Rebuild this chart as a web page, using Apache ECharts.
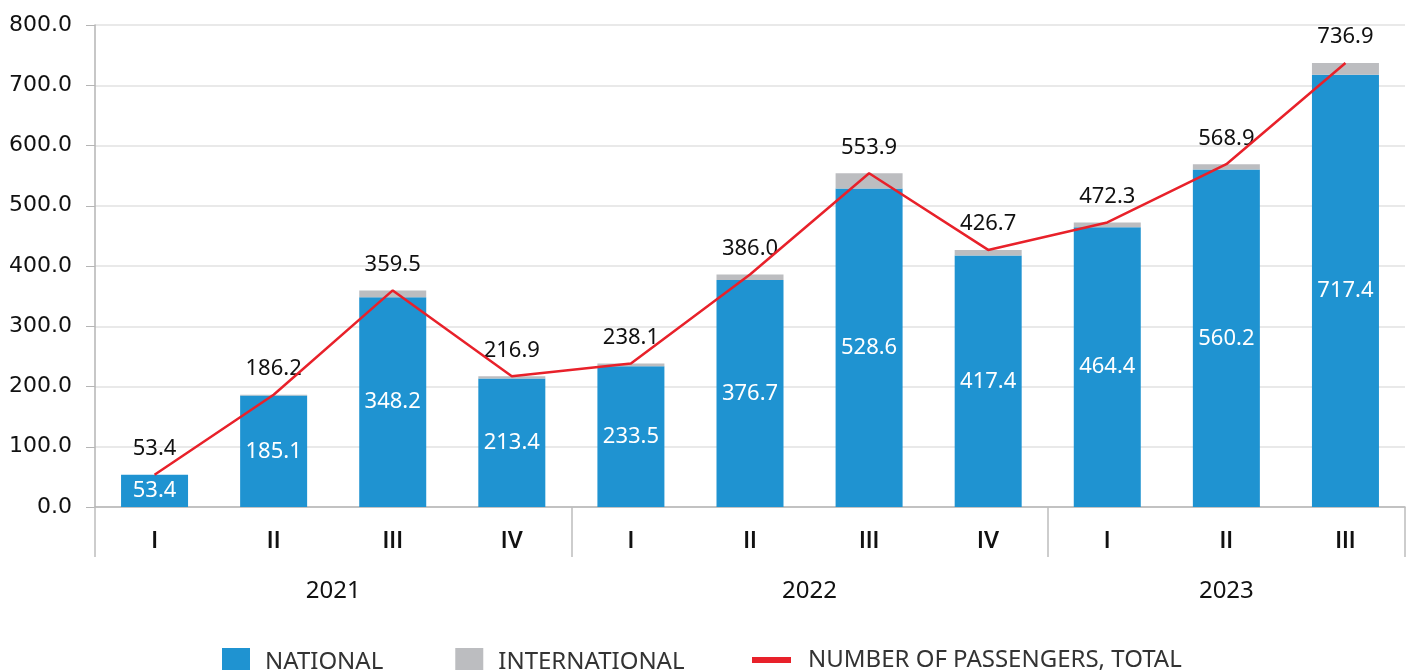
<!DOCTYPE html>
<html>
<head>
<meta charset="utf-8">
<script src="https://cdn.jsdelivr.net/npm/echarts@6/dist/echarts.min.js"></script>
<style>
html,body{margin:0;padding:0;background:#fff;}
#main{width:1410px;height:670px;}
</style>
</head>
<body>
<div id="main"></div>
<script>
const quarters = ['I','II','III','IV','I','II','III','IV','I','II','III'];
const years = ['2021','2022','2023'];
const yearCenters = [2, 6, 9.5];
const yearBoundaries = [0, 4, 8, 11];
const nationalValues = [53.4, 185.1, 348.2, 213.4, 233.5, 376.7, 528.6, 417.4, 464.4, 560.2, 717.4];
const internationalValues = [0, 1.1, 11.3, 3.5, 4.6, 9.3, 25.3, 9.3, 7.9, 8.7, 19.5];
const totalValues = [53.4, 186.2, 359.5, 216.9, 238.1, 386.0, 553.9, 426.7, 472.3, 568.9, 736.9];

const FONT = 'Noto Sans';
const chart = echarts.init(document.getElementById('main'));
chart.setOption({
  animation: false,
  textStyle: { fontFamily: FONT },
  grid: { left: 95, right: 5, top: 25, bottom: 163, containLabel: false },
  legend: [
    {
      left: 222, top: 648, padding: 0, itemWidth: 28, itemHeight: 28, itemGap: 72,
      textStyle: { fontFamily: FONT, fontSize: 24, color: '#333', padding: [0, 0, 0, 10] },
      icon: 'rect',
      data: ['NATIONAL', 'INTERNATIONAL']
    },
    {
      left: 752, top: 648, padding: 0, itemWidth: 39, itemHeight: 6,
      textStyle: { fontFamily: FONT, fontSize: 24, color: '#333', padding: [0, 0, 0, 12] },
      data: [{ name: 'NUMBER OF PASSENGERS, TOTAL', icon: 'rect', itemStyle: { color: '#e8212a' } }]
    }
  ],
  xAxis: [
    {
      type: 'category',
      data: quarters,
      position: 'bottom',
      axisLine: { show: true, lineStyle: { color: '#b5b5b5', width: 1.5 } },
      axisTick: { show: false },
      axisLabel: { fontFamily: 'Roboto', fontWeight: 500, fontSize: 24, color: '#111', margin: 23 }
    },
    {
      type: 'value',
      min: 0, max: 11,
      position: 'bottom',
      axisLine: { show: false },
      splitLine: { show: false },
      axisTick: { show: true, length: 50, customValues: yearBoundaries, lineStyle: { color: '#bdbdbd', width: 1.5 } },
      axisLabel: {
        fontFamily: FONT, fontSize: 24, color: '#111', margin: 72,
        customValues: yearCenters,
        formatter: function (v) {
          const i = yearCenters.indexOf(v);
          return i >= 0 ? years[i] : '';
        }
      }
    }
  ],
  yAxis: {
    type: 'value',
    min: 0, max: 800, interval: 100,
    axisLine: { show: true, lineStyle: { color: '#b5b5b5', width: 1.5 } },
    axisTick: { show: true, length: 9, lineStyle: { color: '#b5b5b5' } },
    splitLine: { show: true, lineStyle: { color: '#e2e2e2', width: 1.5 } },
    axisLabel: { fontFamily: 'DejaVu Sans', fontSize: 22, color: '#111', margin: 23, formatter: v => v.toFixed(1) }
  },
  series: [
    {
      name: 'NATIONAL', type: 'bar', stack: 'p', barWidth: 67,
      xAxisIndex: 0, yAxisIndex: 0,
      itemStyle: { color: '#1f93d1' },
      label: { show: true, position: 'inside', color: '#fff', fontSize: 22, fontFamily: FONT, formatter: p => p.value.toFixed(1) },
      data: nationalValues
    },
    {
      name: 'INTERNATIONAL', type: 'bar', stack: 'p', barWidth: 67,
      xAxisIndex: 0, yAxisIndex: 0,
      itemStyle: { color: '#bcbdc0' },
      label: { show: true, position: 'top', distance: 15, color: '#111', fontSize: 22, fontFamily: FONT,
        formatter: p => totalValues[p.dataIndex].toFixed(1) },
      data: internationalValues
    },
    {
      name: 'NUMBER OF PASSENGERS, TOTAL', type: 'line',
      xAxisIndex: 0, yAxisIndex: 0,
      symbol: 'none', z: 5,
      lineStyle: { color: '#e8212a', width: 2.5 },
      itemStyle: { color: '#e8212a' },
      data: totalValues
    }
  ]
});
</script>
</body>
</html>
